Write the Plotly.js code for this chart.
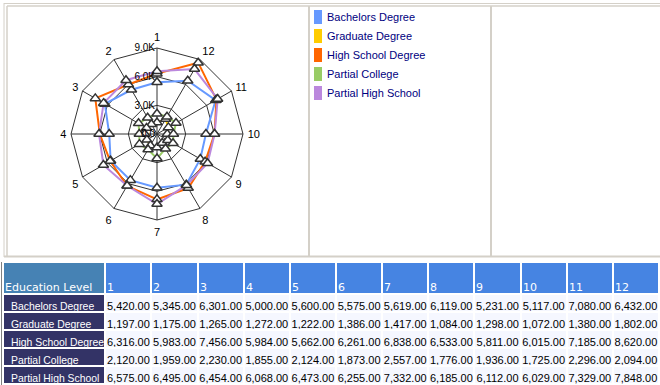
<!DOCTYPE html>
<html>
<head>
<meta charset="utf-8">
<script src="https://cdn.plot.ly/plotly-3.0.1.min.js"></script>
<style>
html,body{margin:0;padding:0;background:#fff;}
#chart{width:660px;height:385px;}
</style>
</head>
<body>
<div id="chart"></div>
<script>
const categories = ["1","2","3","4","5","6","7","8","9","10","11","12"];
const seriesNames = ["Bachelors Degree","Graduate Degree","High School Degree","Partial College","Partial High School"];
const bachelors = [5420,5345,6301,5000,5600,5575,5619,6119,5231,5117,7080,6432];
const graduate = [1197,1175,1265,1272,1222,1386,1417,1084,1298,1072,1380,1802];
const highSchool = [6316,5983,7456,5984,5662,6261,6838,6533,5811,6015,7185,8620];
const partialCollege = [2120,1959,2230,1855,2124,1873,2557,1776,1936,1725,2296,2094];
const partialHighSchool = [6575,6495,6454,6068,6473,6255,7332,6185,6112,6029,7329,7848];
const radialTicks = [0,3000,6000,9000];
const radialTickText = ["0.0","3.0K","6.0K","9.0K"];
const headerFirst = "Education Level";

const seriesValues = [bachelors, graduate, highSchool, partialCollege, partialHighSchool];
const colors = ["#6699FF","#FFCC00","#FF6600","#99CC66","#BB88DD"];
const nb = s => s.replace(/ /g, '\u00A0');

const traces = [];
seriesValues.forEach((vals, i) => {
  traces.push({
    type: 'scatterpolar', mode: 'lines', name: seriesNames[i],
    r: vals.concat([vals[0]]), theta: categories.concat([categories[0]]),
    line: {color: colors[i], width: 2}, showlegend: false, hoverinfo: 'skip'
  });
});
seriesValues.forEach((vals, i) => {
  traces.push({
    type: 'scatterpolar', mode: 'markers', name: seriesNames[i],
    r: vals, theta: categories,
    marker: {symbol: 'triangle-up', size: 9, color: 'white', line: {color: '#333333', width: 1.5}},
    showlegend: false
  });
});

// table geometry
const tableX0 = 3, tableX1 = 659, tableTop = 262, headerH = 32;
const colWidths = [102].concat(categories.map(() => 46));
const headerTexts = [headerFirst].concat(categories);

const nCols = categories.length;
const cellCols = [seriesNames.map(nb)];
for (let c = 0; c < nCols; c++) cellCols.push(seriesValues.map(s => s[c]));
traces.push({
  type: 'table',
  domain: {x: [tableX0/660, tableX1/660], y: [0, 1 - tableTop/385]},
  columnwidth: colWidths,
  header: {
    values: headerTexts.map(() => ''),
    align: 'left', height: headerH,
    fill: {color: ['#4682B4'].concat(categories.map(() => '#4684E2'))},
    font: {family: 'DejaVu Sans', size: 11, color: 'white'},
    line: {color: 'white', width: 2}
  },
  cells: {
    values: cellCols,
    format: [''].concat(categories.map(() => ',.2f')),
    align: ['left'].concat(categories.map(() => 'center')),
    height: 18,
    fill: {color: ['#333366'].concat(categories.map(() => '#F5F7FF'))},
    font: {family: 'Liberation Sans, Arial', size: [10.4].concat(categories.map(() => 11)),
           color: ['white'].concat(categories.map(() => 'black'))},
    line: {color: 'white', width: 2}
  }
});

const shapes = [];
const g = '#D4D0C8';
function ln(x0,y0,x1,y1,c,w){shapes.push({type:'line',xref:'paper',yref:'paper',x0:x0/660,x1:x1/660,y0:1-y0/385,y1:1-y1/385,line:{color:c,width:w}});}
ln(4,3.5,660,3.5,g,1);
ln(7,6,660,6,g,1.5);
ln(4,3,4,257,g,1);
ln(7,6,7,256,g,1.5);
ln(4,256.5,660,256.5,g,2);
ln(309,6,309,256,g,2);
ln(491,6,491,256,g,2);
ln(1.5,262,1.5,385,'#808080',1);

const annotations = [];
// header labels, bottom-left aligned in each header cell
const wSum = colWidths.reduce((a, b) => a + b, 0);
let acc = 0;
headerTexts.forEach((t, i) => {
  const left = tableX0 + (tableX1 - tableX0) * acc / wSum;
  acc += colWidths[i];
  annotations.push({xref:'paper',yref:'paper',x:(left)/660,y:1-(tableTop+headerH-7)/385,xanchor:'left',yanchor:'middle',
    text:t,showarrow:false,font:{family:'DejaVu Sans',size:11,color:'white'}});
});

seriesNames.forEach((n, i) => {
  const top = 10 + i*19;
  shapes.push({type:'rect',xref:'paper',yref:'paper',x0:314/660,x1:322/660,y0:1-top/385,y1:1-(top+14)/385,fillcolor:colors[i],line:{width:0}});
  annotations.push({xref:'paper',yref:'paper',x:325/660,y:1-(top+7)/385,xanchor:'left',yanchor:'middle',text:n,showarrow:false,font:{family:'Liberation Sans, Arial',size:11,color:'#000080'}});
});

const layout = {
  width: 660, height: 385,
  margin: {l:0,r:0,t:0,b:0},
  paper_bgcolor: 'white',
  showlegend: false,
  font: {family: 'Liberation Sans, Arial', size: 11, color: 'black'},
  polar: {
    domain: {x: [71/660, 243/660], y: [1-220/385, 1-48/385]},
    bgcolor: 'white',
    gridshape: 'linear',
    angularaxis: {type: 'category', categoryarray: categories, rotation: 90, direction: 'counterclockwise',
      showline: true, linecolor: '#333333', linewidth: 1, gridcolor: '#333333',
      ticks: 'outside', ticklen: 2, tickcolor: 'rgba(0,0,0,0)',
      tickfont: {size: 11, color: 'black'}},
    radialaxis: {range: [0, 9000], tickvals: radialTicks, ticktext: radialTickText, angle: 90, tickangle: 90,
      side: 'counterclockwise',
      showline: false, gridcolor: '#333333', ticks: '', tickfont: {size: 10, color: 'black'}}
  },
  shapes: shapes,
  annotations: annotations
};
Plotly.newPlot('chart', traces, layout, {displayModeBar: false, staticPlot: true});
</script>
</body>
</html>
